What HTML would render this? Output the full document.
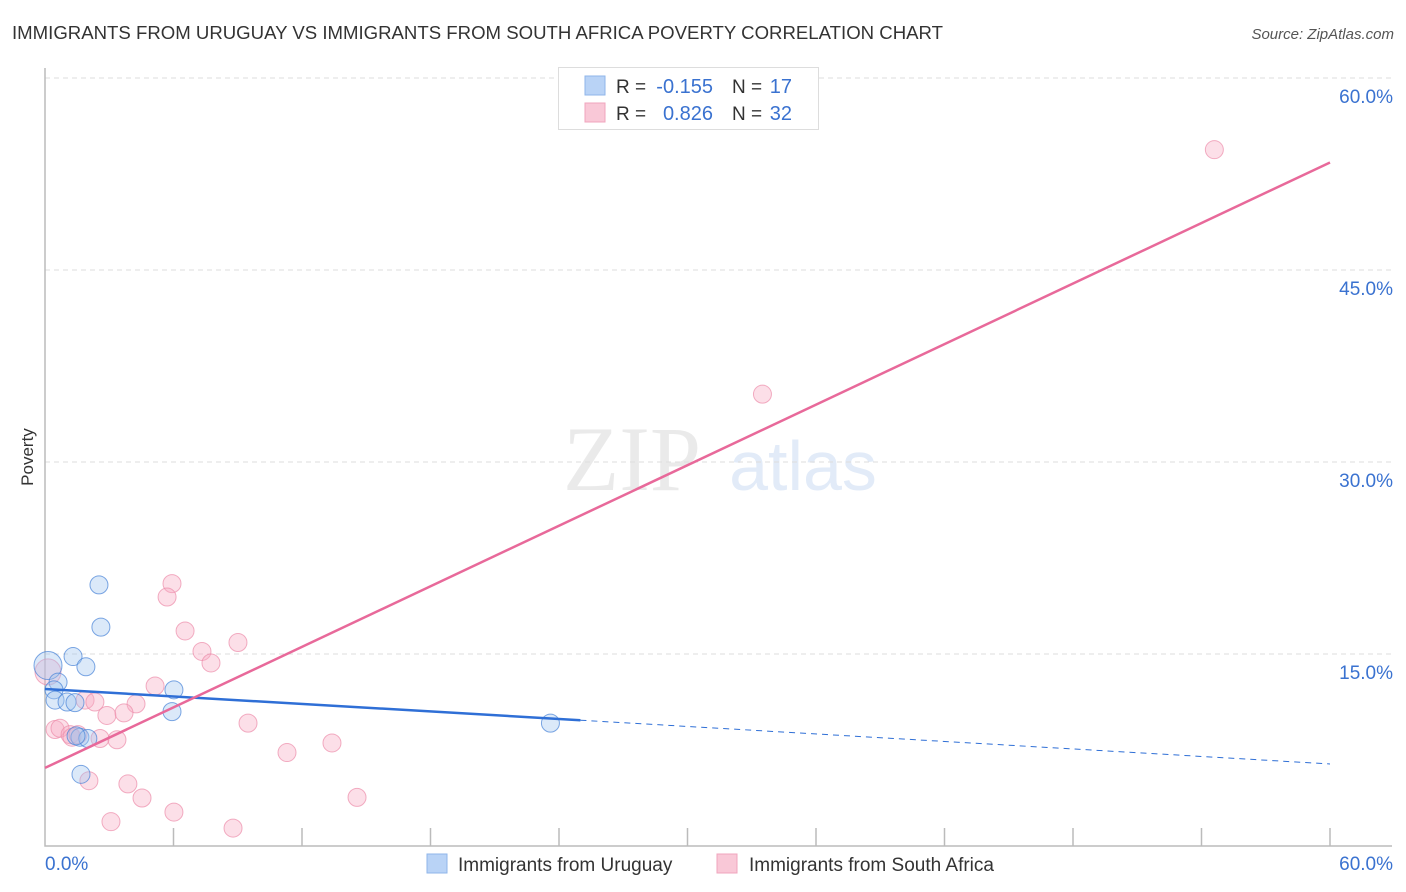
<!DOCTYPE html>
<html><head><meta charset="utf-8"><style>
body{margin:0;background:#fff;font-family:"Liberation Sans",sans-serif;}
svg{display:block}
</style></head><body>
<svg id="chart" width="1406" height="892">
<text x="12" y="39" font-size="18" fill="#333" textLength="931" lengthAdjust="spacingAndGlyphs">IMMIGRANTS FROM URUGUAY VS IMMIGRANTS FROM SOUTH AFRICA POVERTY CORRELATION CHART</text>
<text x="1394" y="39" font-size="15" fill="#555" font-style="italic" text-anchor="end">Source: ZipAtlas.com</text>
<text x="33" y="457" font-size="17" fill="#333" transform="rotate(-90 33 457)" text-anchor="middle">Poverty</text>
<g opacity="0.4">
<text x="632" y="490" font-family="Liberation Serif,serif" font-size="92" fill="#ccc" text-anchor="middle">ZIP</text>
<text x="803" y="490" font-size="70" fill="#b8cfef" text-anchor="middle">atlas</text>
</g>
<g id="grid"></g><g id="axes"></g><g id="marks"></g>
<g>
<rect x="558.5" y="67.5" width="260" height="62" fill="#fff" stroke="#ddd"/>
<rect x="585" y="76" width="20" height="19" fill="#b9d3f6" stroke="#8fb6ea"/>
<rect x="585" y="103" width="20" height="19" fill="#f9c8d7" stroke="#f0a5bd"/>
<text x="616" y="93" font-size="19" fill="#333">R =</text>
<text x="713" y="93" font-size="20" fill="#3a72d0" text-anchor="end">-0.155</text>
<text x="732" y="93" font-size="19" fill="#333">N =</text>
<text x="792" y="93" font-size="20" fill="#3a72d0" text-anchor="end">17</text>
<text x="616" y="120" font-size="19" fill="#333">R =</text>
<text x="713" y="120" font-size="20" fill="#3a72d0" text-anchor="end">0.826</text>
<text x="732" y="120" font-size="19" fill="#333">N =</text>
<text x="792" y="120" font-size="20" fill="#3a72d0" text-anchor="end">32</text>
</g>
<g>
<rect x="427" y="854" width="20" height="19" fill="#b9d3f6" stroke="#8fb6ea"/>
<text x="458" y="871" font-size="19" fill="#333">Immigrants from Uruguay</text>
<rect x="717" y="854" width="20" height="19" fill="#f9c8d7" stroke="#f0a5bd"/>
<text x="749" y="871" font-size="19" fill="#333">Immigrants from South Africa</text>
</g>
</svg>
<script>
const yTicks=[15,30,45,60];
const yTickLabels=["15.0%","30.0%","45.0%","60.0%"];
const xTickLabels=["0.0%","60.0%"];
const uruguayX=[2.52,2.61,1.31,1.91,0.14,0.61,0.42,0.47,1.03,1.4,1.63,2.0,1.45,6.02,5.93,1.68,23.6];
const uruguayY=[20.4,17.1,14.8,14.0,14.1,12.8,12.2,11.4,11.25,11.2,8.5,8.4,8.6,12.2,10.5,5.6,9.6];
const safricaX=[54.6,33.5,5.93,5.7,6.54,9.01,7.33,7.75,5.14,4.25,1.87,2.33,2.89,3.69,9.48,0.47,0.7,1.17,1.26,1.54,2.57,3.36,11.3,13.4,2.05,3.87,4.53,14.57,6.02,3.08,8.78,0.14];
const safricaY=[54.4,35.3,20.5,19.45,16.8,15.9,15.2,14.3,12.5,11.1,11.4,11.25,10.2,10.4,9.6,9.1,9.2,8.7,8.5,8.7,8.4,8.3,7.3,8.05,5.1,4.85,3.75,3.8,2.65,1.9,1.4,13.6];
const uruguayTrend=[12.27,6.41];
const safricaTrend=[6.1,53.4];
const uruguaySolidEnd=25;
const NS="http://www.w3.org/2000/svg";
const X=v=>45+v*1285/60, Y=v=>846-v*768/60;
function mk(p,t,a){const e=document.createElementNS(NS,t);for(const k in a)e.setAttribute(k,a[k]);p.appendChild(e);return e;}
const grid=document.getElementById('grid'),axes=document.getElementById('axes'),marks=document.getElementById('marks');
yTicks.forEach((t,i)=>{
 const l=mk(grid,'line',{x1:45,x2:1392,y1:Y(t),y2:Y(t),stroke:'#ddd','stroke-dasharray':'5,4'});
 
 
 const tx=mk(grid,'text',{x:1393,y:Y(t)+25,'font-size':19,fill:'#3a72d0','text-anchor':'end'});tx.textContent=yTickLabels[i];
 
 
});
const ax=mk(axes,'path',{d:'M45,68V846H1392',fill:'none',stroke:'#bbb','stroke-width':1.5});


for(let i=1;i<=10;i++){const t=mk(axes,'line',{x1:X(i*6),x2:X(i*6),y1:828,y2:846,stroke:'#bbb','stroke-width':1.5});
 
 }
const xl0=mk(axes,'text',{x:45,y:870,'font-size':19,fill:'#3a72d0'});xl0.textContent=xTickLabels[0];


const xl1=mk(axes,'text',{x:1393,y:870,'font-size':19,fill:'#3a72d0','text-anchor':'end'});xl1.textContent=xTickLabels[1];


safricaX.forEach((x,i)=>{const c=mk(marks,'circle',{cx:X(x),cy:Y(safricaY[i]),r:i==31?13:9,fill:'rgba(246,170,195,0.38)',stroke:'rgba(236,140,170,0.7)'});
 
 });
uruguayX.forEach((x,i)=>{const c=mk(marks,'circle',{cx:X(x),cy:Y(uruguayY[i]),r:i==4?14:9,fill:'rgba(160,196,240,0.38)',stroke:'rgba(70,130,215,0.7)'});
 
 });
const ub=v=>uruguayTrend[0]+(uruguayTrend[1]-uruguayTrend[0])*v/60;
const l1=mk(marks,'line',{x1:X(0),y1:Y(ub(0)),x2:X(uruguaySolidEnd),y2:Y(ub(uruguaySolidEnd)),stroke:'#2f6fd6','stroke-width':2.5});


const l2=mk(marks,'line',{x1:X(uruguaySolidEnd),y1:Y(ub(uruguaySolidEnd)),x2:X(60),y2:Y(ub(60)),stroke:'#2f6fd6','stroke-width':1,'stroke-dasharray':'6,5'});


const l3=mk(marks,'line',{x1:X(0),y1:Y(safricaTrend[0]),x2:X(60),y2:Y(safricaTrend[1]),stroke:'#e8699a','stroke-width':2.5});


</script>
</body></html>
